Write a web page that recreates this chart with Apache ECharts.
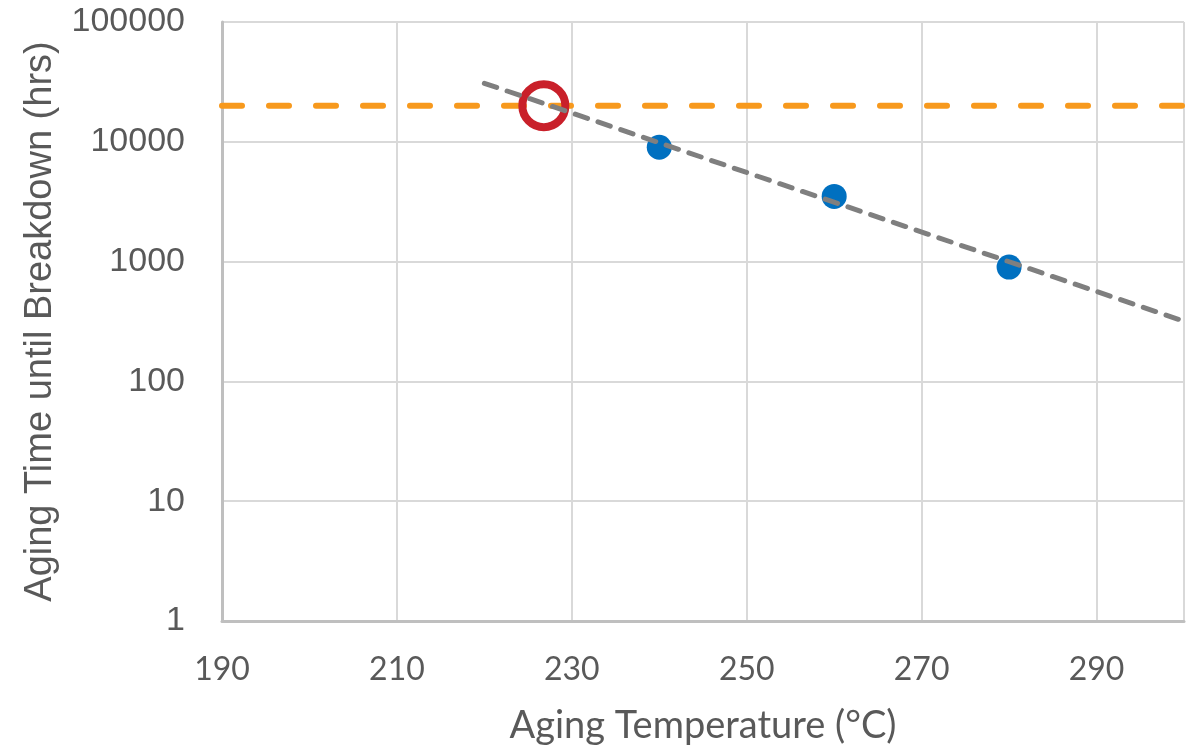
<!DOCTYPE html>
<html>
<head>
<meta charset="utf-8">
<script src="https://cdn.jsdelivr.net/npm/echarts@6/dist/echarts.min.js"></script>
<style>html,body{margin:0;padding:0;background:#fff;}#c{width:1194px;height:746px;}</style>
</head>
<body>
<div id="c"></div>
<script>
// Measured data points (temperature °C, hours)
const measuredTemps = [240, 260, 280];
const measuredHours = [9000, 3500, 900];
// Exponential trendline endpoints
const trendTemps = [220, 300];
const trendHours = [30800, 318];
// Target lifetime line
const targetTemps = [190, 300];
const targetHours = [20000, 20000];
// Intersection marker
const crossTemp = [226.8];
const crossHours = [20000];
// Axis settings
const xTicks = [190, 210, 230, 250, 270, 290];
const yTicks = [1, 10, 100, 1000, 10000, 100000];

const zip = (a, b) => a.map((v, i) => [v, b[i]]);
const chart = echarts.init(document.getElementById('c'));
const grey = '#595959';
chart.setOption({
  animation: false,
  grid: { left: 222, right: 10, top: 22, bottom: 125, containLabel: false, outerBoundsMode: 'none' },
  xAxis: {
    type: 'value', min: 190, max: 300, interval: 20,
    name: 'Aging Temperature (°C)', nameLocation: 'middle', nameGap: 86,
    nameTextStyle: { fontFamily: 'Lato', fontSize: 38, color: grey },
    axisLine: { show: true, onZero: false, lineStyle: { color: '#bfbfbf', width: 3 } },
    axisTick: { show: false },
    axisLabel: { fontFamily: 'Lato', fontSize: 32, color: grey, margin: 33, showMaxLabel: false,
      formatter: v => xTicks.includes(v) ? String(v) : '' },
    splitLine: { show: true, lineStyle: { color: '#d9d9d9', width: 2 } }
  },
  yAxis: {
    type: 'log', min: 1, max: 100000, logBase: 10,
    name: 'Aging Time until Breakdown (hrs)', nameLocation: 'middle', nameGap: 162,
    nameTextStyle: { fontFamily: 'Liberation Sans', fontSize: 38, color: grey },
    axisLine: { show: true, lineStyle: { color: '#bfbfbf', width: 3 } },
    axisTick: { show: false },
    axisLabel: { fontFamily: 'Liberation Sans', fontSize: 34, color: grey, margin: 37,
      formatter: v => yTicks.includes(v) ? String(v) : '' },
    splitLine: { show: true, lineStyle: { color: '#d9d9d9', width: 2 } },
    minorTick: { show: false }
  },
  series: [
    {
      type: 'line', data: zip(targetTemps, targetHours), symbol: 'none', z: 2,
      lineStyle: { color: '#f7991d', width: 6, type: [20, 27], cap: 'round' }
    },
    {
      type: 'scatter', data: zip(measuredTemps, measuredHours), symbolSize: 25, z: 3,
      itemStyle: { color: '#0070c0', opacity: 1 }
    },
    {
      type: 'scatter', data: zip(crossTemp, crossHours), symbolSize: 43, z: 4,
      itemStyle: { color: 'rgba(255,255,255,0)', borderColor: '#c9202a', borderWidth: 8, opacity: 1 }
    },
    {
      type: 'line', data: zip(trendTemps, trendHours), symbol: 'none', z: 5,
      lineStyle: { color: '#7f7f7f', width: 5, type: [13, 11], cap: 'round' }
    }
  ]
});
</script>
</body>
</html>
